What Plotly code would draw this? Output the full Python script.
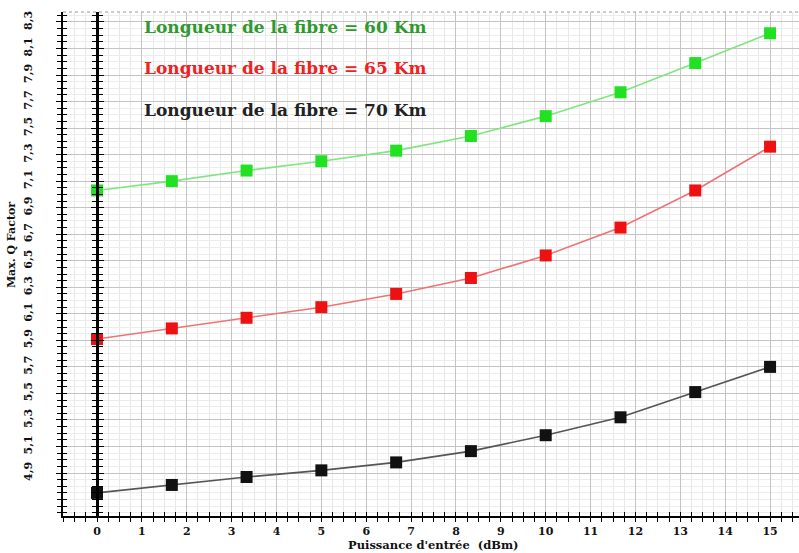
import plotly.graph_objects as go

# Input power (dBm) at each simulated point
puissance = [0, 1.667, 3.333, 5, 6.667, 8.333, 10, 11.667, 13.333, 15]

# Max. Q factor for each fibre length
q_60km = [7.03, 7.10, 7.18, 7.25, 7.33, 7.44, 7.59, 7.77, 7.99, 8.215]
q_65km = [5.91, 5.99, 6.07, 6.15, 6.25, 6.37, 6.54, 6.75, 7.03, 7.36]
q_70km = [4.75, 4.81, 4.87, 4.92, 4.98, 5.065, 5.185, 5.32, 5.51, 5.70]

labels = ["Longueur de la fibre = 60 Km",
          "Longueur de la fibre = 65 Km",
          "Longueur de la fibre = 70 Km"]

x_ticks = list(range(0, 16))
y_ticks = [round(4.9 + 0.2 * i, 1) for i in range(18)]
y_ticktext = [f"{v:.1f}".replace(".", ",") for v in y_ticks]

X_RANGE = [-0.758, 15.645]
Y_RANGE = [4.576, 8.375]

SERIF = "DejaVu Serif"

series = [
    (q_60km, "#7ee67e", "#22e022", "#2e9a2e"),
    (q_65km, "#f07272", "#ee1111", "#ee2222"),
    (q_70km, "#555555", "#111111", "#222222"),
]

fig = go.Figure()

# Empty traces that register the extra tick-ruler axes
for xa, ya in [("x", "y2"), ("x", "y3"), ("x", "y4"), ("x2", "y")]:
    fig.add_trace(go.Scatter(x=[], y=[], xaxis=xa, yaxis=ya,
                             showlegend=False, hoverinfo="skip"))

for (vals, line_c, mark_c, _), name in zip(series, labels):
    fig.add_trace(go.Scatter(
        x=puissance, y=vals, mode="lines+markers", name=name,
        line=dict(color=line_c, width=1.6),
        marker=dict(symbol="square", size=12, color=mark_c),
        showlegend=False,
    ))

# Series labels written inside the plot area
label_y = [0.970, 0.889, 0.806]
for (vals, _, _, txt_c), name, yy in zip(series, labels, label_y):
    fig.add_annotation(
        text=f"<b>{name}</b>", x=0.108, y=yy, xref="paper", yref="paper",
        xanchor="left", yanchor="middle", showarrow=False,
        font=dict(family=SERIF, size=17, color=txt_c),
    )

# Axis titles
fig.add_annotation(text="<b>Max. Q Factor</b>", x=-0.069, y=0.538,
                   xref="paper", yref="paper", textangle=-90,
                   xanchor="center", yanchor="middle",
                   showarrow=False, font=dict(family=SERIF, size=11, color="#111"))
fig.add_annotation(text="<b>Puissance d'entrée  (dBm)</b>", x=0.503, y=-0.0575,
                   xref="paper", yref="paper", xanchor="center", yanchor="middle",
                   showarrow=False,
                   font=dict(family=SERIF, size=11.5, color="#111"))

zero_pos = (0 - X_RANGE[0]) / (X_RANGE[1] - X_RANGE[0])

ruler_common = dict(
    range=Y_RANGE, overlaying="y", anchor="free", position=zero_pos,
    showgrid=False, zeroline=False, showline=True, linecolor="#000",
    linewidth=2.5, showticklabels=False, tickvals=y_ticks,
    ticks="outside", ticklen=5, tickcolor="#000", tickwidth=1.2,
    minor=dict(dtick=0.05, ticks="outside", ticklen=4, tickcolor="#000",
               tickwidth=1, showgrid=False),
)

fig.update_layout(
    width=799, height=553,
    margin=dict(l=63, r=0, t=12, b=37),
    paper_bgcolor="white", plot_bgcolor="white",
    xaxis=dict(
        range=X_RANGE, tickvals=x_ticks, ticks="outside", ticklen=4,
        tickcolor="#000", showline=True, linecolor="#000", linewidth=1.5,
        showgrid=True, gridcolor="#c4c4c4", gridwidth=1, zeroline=False,
        tickfont=dict(family=SERIF, size=11, color="#111", weight="bold"),
        minor=dict(dtick=0.25, ticks="outside", ticklen=4, tickcolor="#000",
                   showgrid=True, gridcolor="#e8e8e8", gridwidth=1),
    ),
    xaxis2=dict(
        range=X_RANGE, overlaying="x", anchor="y", side="bottom",
        showgrid=False, zeroline=False, showticklabels=False,
        tickvals=x_ticks, ticks="inside", ticklen=4, tickcolor="#000",
        minor=dict(dtick=0.25, ticks="inside", ticklen=4, tickcolor="#000",
                   showgrid=False),
    ),
    yaxis=dict(
        range=Y_RANGE, tickvals=y_ticks, ticktext=y_ticktext, tickangle=-90,
        ticks="outside", ticklen=5, tickcolor="#000", ticklabelstandoff=20,
        showline=True, linecolor="#000", linewidth=1.5,
        showgrid=True, gridcolor="#c4c4c4", gridwidth=1, zeroline=False,
        tickfont=dict(family=SERIF, size=11, color="#111", weight="bold"),
        minor=dict(dtick=0.05, ticks="outside", ticklen=4, tickcolor="#000",
                   showgrid=True, gridcolor="#ececec", gridwidth=1),
    ),
    yaxis4=dict(
        range=Y_RANGE, overlaying="y", anchor="x", side="left",
        showgrid=False, zeroline=False, showticklabels=False,
        tickvals=y_ticks, ticks="inside", ticklen=4, tickcolor="#000",
        minor=dict(dtick=0.05, ticks="inside", ticklen=4, tickcolor="#000",
                   showgrid=False),
    ),
    yaxis2=dict(side="left", **ruler_common),
    yaxis3=dict(side="right", **ruler_common),
    shapes=[dict(type="line", xref="paper", yref="paper", x0=0, x1=1,
                 y0=1, y1=1, line=dict(color="#999", width=1.2, dash="dot"))],
)

fig.write_html("out.html")
